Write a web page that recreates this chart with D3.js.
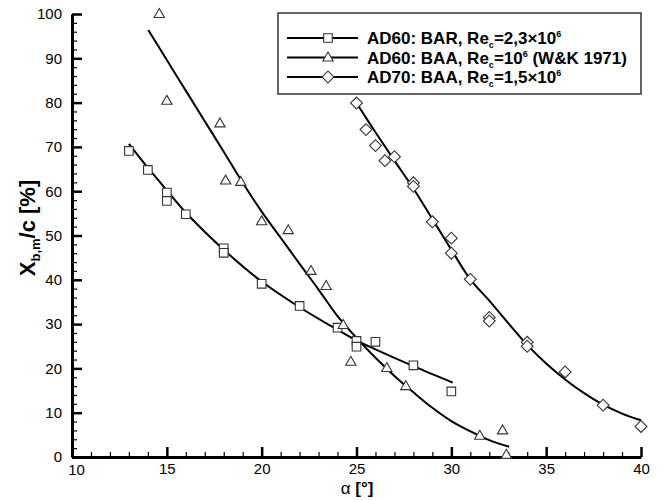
<!DOCTYPE html>
<html><head><meta charset="utf-8">
<script src="https://cdn.jsdelivr.net/npm/d3@7"></script>
<style>body{margin:0;background:#fff;}svg{display:block;}text{font-family:"Liberation Sans",Arial,sans-serif;}</style>
</head><body><svg id="c" width="663" height="500"></svg>
<script>
// ---- data ----
const xTicks = [10,15,20,25,30,35,40];
const yTicks = [0,10,20,30,40,50,60,70,80,90,100];
const barAlpha = [13,14,15,15,16,18,18,20,22,24,25,25,26,28,30];
const barX     = [69.1,64.8,59.7,57.8,54.8,47.1,46.1,39.1,34.1,29.2,26.2,24.9,26.0,20.7,14.8];
const barFitAlpha = [13,14,15,16,18,20,22,24,25,26,28,30.07];
const barFitX     = [70.7,65.3,60.2,55.2,46.8,39.6,33.8,28.7,26.3,24.3,20.5,16.8];
const baaAlpha = [14.6,15,17.8,18.1,18.9,20,21.4,22.6,23.4,24.3,24.7,26.6,27.6,31.5,32.7,32.9];
const baaX     = [100,80.4,75.3,62.4,62.1,53.2,51.2,42.0,38.6,29.8,21.5,20.1,16.0,4.8,6.0,0.5];
const baaFitAlpha = [14.02,15,16,17,18,19,20,21,22,23,24,25,26,27,28,29,30,31,32,33.05];
const baaFitX     = [96.4,89.6,82.7,75.8,68.9,61.9,55.4,49.5,43.6,37.8,31.8,26.9,22.4,18.3,14.6,11.1,8.1,5.8,3.8,2.3];
const ad70Alpha = [25,25.5,26,26.5,27,28,28,29,30,30,31,32,32,34,34,36,38,40];
const ad70X     = [79.9,73.9,70.3,66.9,67.8,61.9,61.1,53.1,49.4,46.0,40.1,31.5,30.7,25.9,25.0,19.2,11.7,6.9];
const ad70FitAlpha = [25,26,27,28,29,30,31,32,33,34,35,36,37,38,39,40];
const ad70FitX     = [79.9,73.3,66.9,60.6,53.7,46.8,40.1,35.3,30.2,25.3,21.1,17.5,14.4,11.8,9.8,8.3];
const legendLabels = [
  ["AD60: BAR, Re","c","=2,3\u00D710","6",""],
  ["AD60: BAA, Re","c","=10","6"," (W&K 1971)"],
  ["AD70: BAA, Re","c","=1,5\u00D710","6",""]
];

// ---- chart ----
const svg = d3.select("#c");
const Y0 = 457;
const x = d3.scaleLinear().domain([10,40]).range([72,641]);
const y = d3.scaleLinear().domain([0,100]).range([Y0,14]);

const xMinor = d3.range(10,40.01,1).filter(v=>v%5!==0);
const yMinor = d3.range(0,100.01,2).filter(v=>v%10!==0);
svg.append("g").attr("transform",`translate(0,${Y0})`)
  .call(d3.axisBottom(x).tickValues(xMinor).tickSize(-5).tickSizeOuter(0).tickFormat(""))
  .call(g=>g.select(".domain").remove())
  .call(g=>g.selectAll("line").attr("stroke","#000").attr("stroke-width",1.2));
svg.append("g").attr("transform","translate(72,0)")
  .call(d3.axisLeft(y).tickValues(yMinor).tickSize(-5).tickSizeOuter(0).tickFormat(""))
  .call(g=>g.select(".domain").remove())
  .call(g=>g.selectAll("line").attr("stroke","#000").attr("stroke-width",1.2));
const gx = svg.append("g").attr("transform",`translate(0,${Y0})`)
  .call(d3.axisBottom(x).tickValues(xTicks).tickSize(-10).tickSizeOuter(0).tickPadding(6).tickFormat(d3.format("d")));
gx.select(".domain").attr("stroke","#000").attr("stroke-width",3);
gx.selectAll("line").attr("stroke","#000").attr("stroke-width",2.5);
gx.selectAll("text").attr("font-size",15).attr("fill","#000");
gx.selectAll(".tick").filter(d=>d===10).select("text").attr("dx",4).attr("dy","0.8em");
const gy = svg.append("g").attr("transform","translate(72,0)")
  .call(d3.axisLeft(y).tickValues(yTicks).tickSize(-10).tickSizeOuter(0).tickPadding(10).tickFormat(d3.format("d")));
gy.select(".domain").attr("stroke","#000").attr("stroke-width",3);
gy.selectAll("line").attr("stroke","#000").attr("stroke-width",2.5);
gy.selectAll("text").attr("font-size",15).attr("fill","#000");

// axis titles
const xt = svg.append("text").attr("x",357).attr("y",494).attr("text-anchor","middle").attr("font-size",17);
xt.append("tspan").text("\u03B1 ");
xt.append("tspan").attr("font-weight","bold").text("[\u00B0]");
const yt = svg.append("text").attr("transform","translate(35,228) rotate(-90)").attr("text-anchor","middle")
  .attr("font-size",22).attr("font-weight","bold");
yt.append("tspan").text("X");
yt.append("tspan").attr("font-size",13).attr("dy",5).text("b,m");
yt.append("tspan").attr("dy",-5).text("/c [%]");

// fit curves
const line = d3.line().x(d=>x(d[0])).y(d=>y(d[1])).curve(d3.curveCatmullRom);
const fits = [d3.zip(barFitAlpha,barFitX), d3.zip(baaFitAlpha,baaFitX), d3.zip(ad70FitAlpha,ad70FitX)];
svg.append("g").selectAll("path").data(fits).join("path")
  .attr("d",line).attr("fill","none").attr("stroke","#000").attr("stroke-width",2);

// markers
const sq = d3.symbol().type(d3.symbolSquare).size(74)();
const tri = d3.symbol().type(d3.symbolTriangle).size(46)();
const dia = d3.symbol().type(d3.symbolSquare).size(70)();
const mk = [{sym:sq, rot:0, pts:d3.zip(barAlpha,barX), dy:0},
            {sym:tri, rot:0, pts:d3.zip(baaAlpha,baaX), dy:0.5},
            {sym:dia, rot:45, pts:d3.zip(ad70Alpha,ad70X), dy:0}];
mk.forEach(m=>{
  svg.append("g").selectAll("path").data(m.pts).join("path")
    .attr("d",m.sym).attr("transform",d=>`translate(${x(d[0])},${y(d[1])+m.dy}) rotate(${m.rot})`)
    .attr("fill","#fff").attr("stroke","#333").attr("stroke-width",1.1);
});

// legend
const lg = svg.append("g");
lg.append("rect").attr("x",278).attr("y",13).attr("width",363).attr("height",81)
  .attr("fill","#fff").attr("stroke","#333").attr("stroke-width",1.5);
legendLabels.forEach((lab,i)=>{
  const yy = 38 + i*19.5;
  const m = mk[i];
  lg.append("line").attr("x1",287).attr("x2",358).attr("y1",yy).attr("y2",yy).attr("stroke","#000").attr("stroke-width",2);
  lg.append("path").attr("d",m.sym).attr("transform",`translate(328,${yy+m.dy}) rotate(${m.rot})`)
    .attr("fill","#fff").attr("stroke","#333").attr("stroke-width",1.1);
  const t = lg.append("text").attr("x",367).attr("y",yy+6).attr("font-size",17).attr("font-weight","bold");
  t.append("tspan").text(lab[0]);
  t.append("tspan").attr("font-size",9).attr("dy",4).text(lab[1]);
  t.append("tspan").attr("dy",-4).text(lab[2]);
  t.append("tspan").attr("font-size",9).attr("dy",-7).text(lab[3]);
  if(lab[4]) t.append("tspan").attr("dy",7).text(lab[4]);
});
</script></body></html>
